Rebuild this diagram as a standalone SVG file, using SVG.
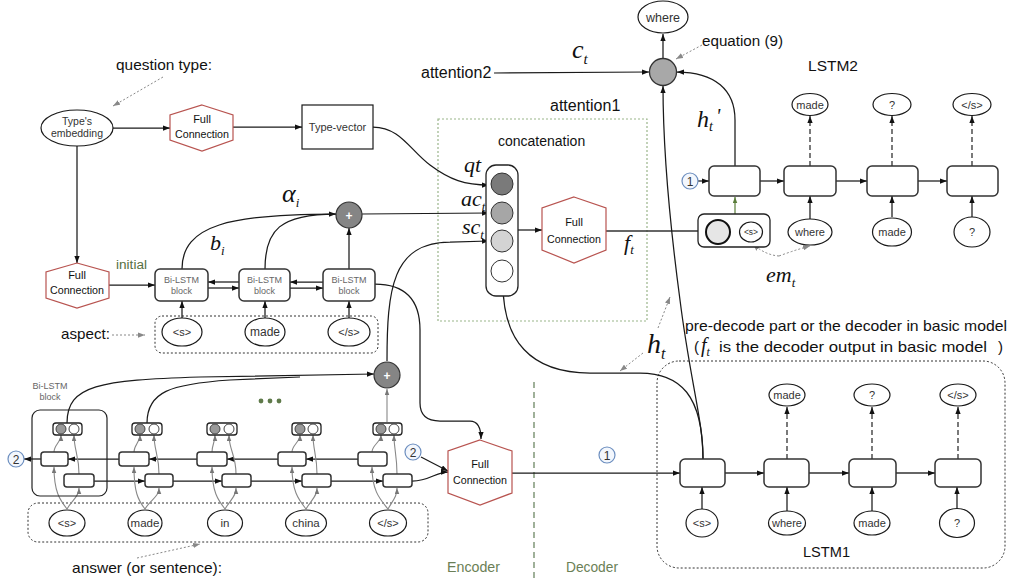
<svg xmlns="http://www.w3.org/2000/svg" width="1009" height="583" viewBox="0 0 1009 583">
<defs>
<marker id="a" viewBox="0 0 8 6" refX="8" refY="3" markerWidth="7" markerHeight="5.5" markerUnits="userSpaceOnUse" orient="auto"><path d="M0,0 L8,3 L0,6 z" fill="#111"/></marker>
<marker id="ag" viewBox="0 0 8 6" refX="8" refY="3" markerWidth="6" markerHeight="5" markerUnits="userSpaceOnUse" orient="auto"><path d="M0,0 L8,3 L0,6 z" fill="#777"/></marker>
<marker id="agr" viewBox="0 0 8 6" refX="8" refY="3" markerWidth="6" markerHeight="5" markerUnits="userSpaceOnUse" orient="auto"><path d="M0,0 L8,3 L0,6 z" fill="#5a7d3a"/></marker>
<marker id="ad" viewBox="0 0 8 6" refX="8" refY="3" markerWidth="7" markerHeight="5.5" markerUnits="userSpaceOnUse" orient="auto"><path d="M0,0 L8,3 L0,6 z" fill="#888"/></marker>
</defs>
<style>
.ln{fill:none;stroke:#1a1a1a;stroke-width:1.25}
.lt{fill:none;stroke:#333;stroke-width:1.4}
.gl{fill:none;stroke:#888;stroke-width:1.1}
.dt{fill:none;stroke:#888;stroke-width:1;stroke-dasharray:2,2}
.ds{fill:none;stroke:#333;stroke-width:1.3;stroke-dasharray:5,3}
.cell{fill:#fff;stroke:#333;stroke-width:1.5}
.hex{fill:#fff;stroke:#b85450;stroke-width:1.2}
.el{fill:#fff;stroke:#1a1a1a;stroke-width:1.2}
.pb{fill:#fff;stroke:#222;stroke-width:1.3}
.bl{fill:#f3f7fd;stroke:#6c8ebf;stroke-width:1.2}
.t{font-family:'Liberation Sans',Arial,sans-serif;fill:#333}
.c{font-family:'Liberation Sans',Arial,sans-serif;fill:#111}
.g{font-family:'Liberation Sans',Arial,sans-serif;fill:#666}
.m{font-family:'Liberation Serif','Times New Roman',serif;font-style:italic;fill:#111}
</style>
<rect width="1009" height="583" fill="#fff"/>

<g id="labels">
<text class="c" x="116" y="70" font-size="15" textLength="96" lengthAdjust="spacingAndGlyphs">question type:</text>
<text class="c" x="61" y="339" font-size="15" textLength="49" lengthAdjust="spacingAndGlyphs">aspect:</text>
<text class="c" x="72" y="573" font-size="15" textLength="150" lengthAdjust="spacingAndGlyphs">answer (or sentence):</text>
<text class="c" x="702" y="46" font-size="14" textLength="81" lengthAdjust="spacingAndGlyphs">equation (9)</text>
<text class="c" x="808" y="71" font-size="15" textLength="50" lengthAdjust="spacingAndGlyphs">LSTM2</text>
<text class="c" x="803" y="557" font-size="15" textLength="47" lengthAdjust="spacingAndGlyphs">LSTM1</text>
<text class="c" x="685" y="331" font-size="15" textLength="322" lengthAdjust="spacingAndGlyphs">pre-decode part or the decoder in basic model</text>
<text class="c" x="694" y="352" font-size="15">(</text>
<text class="m" x="701" y="352" font-size="20">f<tspan font-size="12" dy="4">t</tspan></text>
<text class="c" x="719" y="352" font-size="15" textLength="268" lengthAdjust="spacingAndGlyphs">is the decoder output in basic model</text>
<text class="c" x="998" y="352" font-size="15">)</text>
<text x="447" y="572" font-size="14" font-family="'Liberation Sans',Arial,sans-serif" fill="#6b7f56" textLength="53" lengthAdjust="spacingAndGlyphs">Encoder</text>
<text x="566" y="572" font-size="14" font-family="'Liberation Sans',Arial,sans-serif" fill="#6b7f56" textLength="52" lengthAdjust="spacingAndGlyphs">Decoder</text>
<text x="116" y="269" font-size="12" font-family="'Liberation Sans',Arial,sans-serif" fill="#56703f" textLength="31" lengthAdjust="spacingAndGlyphs">initial</text>
<text class="c" x="421" y="78" font-size="16">attention2</text>
<text class="c" x="550" y="111" font-size="16">attention1</text>
<text class="c" x="498" y="146" font-size="14">concatenation</text>
<text class="m" x="572" y="58" font-size="26">c<tspan font-size="15" dy="6">t</tspan></text>
<text class="m" x="282" y="202" font-size="26">α<tspan font-size="13" dy="5">i</tspan></text>
<text class="m" x="210" y="250" font-size="22">b<tspan font-size="13" dy="5">i</tspan></text>
<text class="m" x="464" y="172" font-size="22">qt</text>
<text class="m" x="461" y="206" font-size="22">ac<tspan font-size="13" dy="5">t</tspan></text>
<text class="m" x="462" y="234" font-size="22">sc<tspan font-size="13" dy="5">t</tspan></text>
<text class="m" x="624" y="250" font-size="22">f<tspan font-size="13" dy="4">t</tspan></text>
<text class="m" x="697" y="127" font-size="24">h<tspan font-size="14" dy="4">t</tspan><tspan font-size="20" dy="-8" dx="3">'</tspan></text>
<text class="m" x="647" y="353" font-size="28">h<tspan font-size="16" dy="6">t</tspan></text>
<text class="m" x="766" y="282" font-size="22">em<tspan font-size="13" dy="5">t</tspan></text>
<circle cx="261" cy="401" r="2.4" fill="#5f7a4a"/>
<circle cx="270" cy="401" r="2.4" fill="#5f7a4a"/>
<circle cx="279" cy="401" r="2.4" fill="#5f7a4a"/>
</g>

<g id="attention1-box"><rect x="438" y="119" width="209" height="202" fill="none" stroke="#9ab58a" stroke-width="1.2" stroke-dasharray="2,2"/></g>
<g id="aspect-box"><rect x="155" y="316" width="223" height="37" rx="7" fill="none" stroke="#333" stroke-width="1" stroke-dasharray="2,2"/></g>
<g id="answer-box"><rect x="28" y="503" width="400" height="39" rx="10" fill="none" stroke="#333" stroke-width="1" stroke-dasharray="2,2"/></g>
<g id="lstm1-box"><rect x="657" y="361" width="348" height="207" rx="22" fill="none" stroke="#333" stroke-width="1" stroke-dasharray="2,2"/></g>
<g id="divider"><line x1="534" y1="382" x2="534" y2="578" stroke="#6d8764" stroke-width="1.3" stroke-dasharray="6,4"/></g>

<g id="connectors">
<path class="dt" d="M163,77 L113,106" marker-end="url(#ad)"/>
<path class="dt" d="M112,335 L145,335" marker-end="url(#ad)"/>
<path class="dt" d="M137,558 L200,544" marker-end="url(#ad)"/>
<path class="dt" d="M702,45 L676,59" marker-end="url(#ad)"/>
<path class="dt" d="M658,328 L670,297" marker-end="url(#ad)"/>
<path class="dt" d="M643,353 L620,371" marker-end="url(#ad)"/>
<path class="dt" d="M779,256 Q765,255 753,244" marker-end="url(#ad)"/>
<path class="dt" d="M779,256 Q795,250 810,246" marker-end="url(#ad)"/>

<path class="ln" d="M113,128 L170,128" marker-end="url(#a)"/>
<path class="ln" d="M233,127 L302,127" marker-end="url(#a)"/>
<path class="ln" d="M77,146 L77,263" marker-end="url(#a)"/>
<path class="ln" d="M109,285 L155,285" marker-end="url(#a)"/>
<path class="ln" d="M239,282 L208,282" marker-end="url(#a)"/>
<path class="ln" d="M323,282 L290,282" marker-end="url(#a)"/>
<path class="ln" d="M208,288 L239,288" marker-end="url(#a)"/>
<path class="ln" d="M290,288 L323,288" marker-end="url(#a)"/>
<path class="ln" d="M182,318 L182,301" marker-end="url(#a)"/>
<path class="ln" d="M265,318 L265,301" marker-end="url(#a)"/>
<path class="ln" d="M349,318 L349,301" marker-end="url(#a)"/>
<path class="ln" d="M349,269 L349,228" marker-end="url(#a)"/>
<path class="ln" d="M182,269 C182,225 230,214 336,214" marker-end="url(#a)"/>
<path class="ln" d="M265,269 C265,230 280,214 336,214"/>
<path class="ln" d="M362,214 L489,213" marker-end="url(#a)"/>
<path class="ln" d="M373,127 C400,127 410,150 430,165 C450,180 465,185 489,185" marker-end="url(#a)"/>
<path class="ln" d="M387,361 C387,290 392,242 450,242 L489,241" marker-end="url(#a)"/>
<path class="ln" d="M375,284 C405,284 420,300 420,330 L420,403 C420,416 428,421 440,421 L470,421 C478,421 481,428 481,439" marker-end="url(#a)"/>
<path class="ln" d="M518,230 L542,230" marker-end="url(#a)"/>
<path class="lt" d="M606,231 L706,231" marker-end="url(#a)"/>
<path class="ln" d="M494,73 L649,72" marker-end="url(#a)"/>
<path class="lt" d="M663,58 L663,34" marker-end="url(#a)"/>
<path class="ln" d="M735,166 L735,120 C735,90 715,72 677,72" marker-end="url(#a)"/>
<path class="ln" d="M703,459 C703,420 690,380 680,300 C672,240 663,160 663,86" marker-end="url(#a)"/>
<path class="ln" d="M703,459 C703,395 680,373 640,373 L590,373 C530,373 503,340 503,284" marker-end="url(#a)"/>

<path class="ln" d="M698,181 L709,181" marker-end="url(#a)"/>
<path class="lt" d="M760,181 L784,181" marker-end="url(#a)"/>
<path class="lt" d="M836,181 L867,181" marker-end="url(#a)"/>
<path class="lt" d="M918,181 L947,181" marker-end="url(#a)"/>
<path class="ds" d="M810,166 L810,116" marker-end="url(#a)"/>
<path class="ds" d="M892,166 L892,116" marker-end="url(#a)"/>
<path class="ds" d="M972,166 L972,116" marker-end="url(#a)"/>
<path class="lt" d="M810,219 L810,196" marker-end="url(#a)"/>
<path class="lt" d="M892,217 L892,196" marker-end="url(#a)"/>
<path class="lt" d="M972,217 L972,196" marker-end="url(#a)"/>
<path fill="none" stroke="#5a7d3a" stroke-width="1.2" d="M735,214 L735,197" marker-end="url(#agr)"/>

<path class="ln" d="M512,473 L680,473" marker-end="url(#a)"/>
<path class="lt" d="M725,473 L764,473" marker-end="url(#a)"/>
<path class="lt" d="M809,473 L849,473" marker-end="url(#a)"/>
<path class="lt" d="M896,473 L935,473" marker-end="url(#a)"/>
<path class="ds" d="M787,459 L787,407" marker-end="url(#a)"/>
<path class="ds" d="M872,459 L872,407" marker-end="url(#a)"/>
<path class="ds" d="M958,459 L958,407" marker-end="url(#a)"/>
<path class="lt" d="M702,509 L702,487" marker-end="url(#a)"/>
<path class="lt" d="M787,511 L787,487" marker-end="url(#a)"/>
<path class="lt" d="M872,511 L872,487" marker-end="url(#a)"/>
<path class="lt" d="M957,509 L957,487" marker-end="url(#a)"/>

<path class="ln" d="M41,459 L24,459" marker-end="url(#a)"/>
<path class="ln" d="M119,459 L68,459" marker-end="url(#a)"/>
<path class="ln" d="M197,459 L149,459" marker-end="url(#a)"/>
<path class="ln" d="M278,459 L227,459" marker-end="url(#a)"/>
<path class="ln" d="M358,459 L306,459" marker-end="url(#a)"/>
<path class="ln" d="M94,481 L145,481" marker-end="url(#a)"/>
<path class="ln" d="M173,481 L222,481" marker-end="url(#a)"/>
<path class="ln" d="M251,481 L302,481" marker-end="url(#a)"/>
<path class="ln" d="M331,481 L383,481" marker-end="url(#a)"/>
<path class="ln" d="M412,481 C430,481 435,472 448,472" marker-end="url(#a)"/>
<path class="ln" d="M421,457 L448,471" marker-end="url(#a)"/>
<path class="ln" d="M67,423 C67,385 100,380 200,377 L374,374" marker-end="url(#a)"/>
<path class="ln" d="M147,423 C147,392 170,384 230,380 L300,377"/>
<path class="gl" d="M387,422 L387,389" marker-end="url(#ag)"/>

<path class="gl" d="M67,509 C60,500 54,492 54,467" marker-end="url(#ag)"/>
<path class="gl" d="M67,509 C72,500 79,497 79,488" marker-end="url(#ag)"/>
<path class="gl" d="M54,452 C54,445 61,442 61,435" marker-end="url(#ag)"/>
<path class="gl" d="M79,474 C79,455 74,450 74,435" marker-end="url(#ag)"/>

<path class="gl" d="M145,509 C138,500 134,492 134,467" marker-end="url(#ag)"/>
<path class="gl" d="M145,509 C150,500 159,497 159,488" marker-end="url(#ag)"/>
<path class="gl" d="M134,452 C134,445 140,442 140,435" marker-end="url(#ag)"/>
<path class="gl" d="M159,474 C159,455 154,450 154,435" marker-end="url(#ag)"/>

<path class="gl" d="M225,509 C218,500 212,492 212,467" marker-end="url(#ag)"/>
<path class="gl" d="M225,509 C230,500 236,497 236,488" marker-end="url(#ag)"/>
<path class="gl" d="M212,452 C212,445 215,442 215,435" marker-end="url(#ag)"/>
<path class="gl" d="M236,474 C236,455 229,450 229,435" marker-end="url(#ag)"/>

<path class="gl" d="M306,509 C299,500 292,492 292,467" marker-end="url(#ag)"/>
<path class="gl" d="M306,509 C311,500 317,497 317,488" marker-end="url(#ag)"/>
<path class="gl" d="M292,452 C292,445 300,442 300,435" marker-end="url(#ag)"/>
<path class="gl" d="M317,474 C317,455 313,450 313,435" marker-end="url(#ag)"/>

<path class="gl" d="M388,509 C381,500 372,492 372,467" marker-end="url(#ag)"/>
<path class="gl" d="M388,509 C393,500 397,497 397,488" marker-end="url(#ag)"/>
<path class="gl" d="M372,452 C372,445 381,442 381,435" marker-end="url(#ag)"/>
<path class="gl" d="M397,474 C397,455 394,450 394,435" marker-end="url(#ag)"/>
</g>

<g id="type-embedding">
<ellipse class="el" cx="77" cy="128" rx="36" ry="18"/>
<text class="t" x="77" y="125" font-size="10.5" text-anchor="middle">Type's</text>
<text class="t" x="77" y="137" font-size="10.5" text-anchor="middle">embedding</text>
</g>
<g id="fc-type">
<polygon class="hex" points="202,105 233,115 233,140 202,151 170,140 170,115"/>
<text class="c" x="202" y="123" font-size="11" text-anchor="middle">Full</text>
<text class="c" x="202" y="138" font-size="11" text-anchor="middle" textLength="54" lengthAdjust="spacingAndGlyphs">Connection</text>
</g>
<g id="type-vector">
<rect x="302" y="105" width="71" height="44" fill="#fff" stroke="#1a1a1a" stroke-width="1.2"/>
<text class="t" x="337.5" y="131" font-size="11" text-anchor="middle">Type-vector</text>
</g>
<g id="fc-initial">
<polygon class="hex" points="77,263 109,272 109,298 77,308 46,298 46,272"/>
<text class="c" x="77" y="279" font-size="11" text-anchor="middle">Full</text>
<text class="c" x="77" y="294" font-size="11" text-anchor="middle" textLength="54" lengthAdjust="spacingAndGlyphs">Connection</text>
</g>

<g id="aspect-block1"><rect class="cell" x="155" y="269" width="53" height="32" rx="5"/><text class="g" x="181.5" y="283" font-size="9" text-anchor="middle">Bi-LSTM</text><text class="g" x="181.5" y="294" font-size="9" text-anchor="middle">block</text></g>
<g id="aspect-block2"><rect class="cell" x="239" y="269" width="51" height="32" rx="5"/><text class="g" x="264.5" y="283" font-size="9" text-anchor="middle">Bi-LSTM</text><text class="g" x="264.5" y="294" font-size="9" text-anchor="middle">block</text></g>
<g id="aspect-block3"><rect class="cell" x="323" y="269" width="52" height="32" rx="5"/><text class="g" x="349" y="283" font-size="9" text-anchor="middle">Bi-LSTM</text><text class="g" x="349" y="294" font-size="9" text-anchor="middle">block</text></g>
<g id="aspect-s"><ellipse class="el" cx="182" cy="332" rx="20" ry="14"/><text class="t" x="182" y="336" font-size="11" text-anchor="middle">&lt;s&gt;</text></g>
<g id="aspect-made"><ellipse class="el" cx="265" cy="332" rx="20" ry="14"/><text class="t" x="265" y="336" font-size="12" text-anchor="middle">made</text></g>
<g id="aspect-end"><ellipse class="el" cx="349" cy="332" rx="21" ry="14"/><text class="t" x="349" y="336" font-size="11" text-anchor="middle">&lt;/s&gt;</text></g>
<g id="plus-aspect"><circle cx="349" cy="215" r="13" fill="#858585" stroke="#333" stroke-width="1.2"/><text x="349" y="219.5" font-size="12" font-weight="bold" fill="#fff" text-anchor="middle" font-family="'Liberation Sans',Arial,sans-serif">+</text></g>

<g id="concat">
<rect x="486" y="165" width="32" height="131" rx="10" fill="#fff" stroke="#222" stroke-width="1.3"/>
<circle cx="502" cy="184" r="11" fill="#7a7a7a" stroke="#333" stroke-width="1"/>
<circle cx="502" cy="213" r="11" fill="#a6a6a6" stroke="#333" stroke-width="1"/>
<circle cx="502" cy="241" r="11" fill="#d4d4d4" stroke="#333" stroke-width="1"/>
<circle cx="502" cy="271" r="11" fill="#fff" stroke="#333" stroke-width="1"/>
</g>
<g id="fc-attention">
<polygon class="hex" points="574,197 606,208 606,250 574,263 542,250 542,208"/>
<text class="c" x="574" y="226" font-size="11" text-anchor="middle">Full</text>
<text class="c" x="574" y="243" font-size="11" text-anchor="middle" textLength="54" lengthAdjust="spacingAndGlyphs">Connection</text>
</g>

<g id="equation"><circle cx="663" cy="72" r="13.5" fill="#a8a8a8" stroke="#333" stroke-width="1.3"/></g>
<g id="out-where"><ellipse class="el" cx="663" cy="17" rx="25" ry="16"/><text class="t" x="663" y="21.5" font-size="12.5" text-anchor="middle">where</text></g>

<g id="lstm2-one"><circle class="bl" cx="690" cy="181" r="8"/><text class="t" x="690" y="185.5" font-size="12" text-anchor="middle">1</text></g>
<g id="lstm2-c1"><rect class="cell" x="709" y="166" width="51" height="30" rx="5"/></g>
<g id="lstm2-c2"><rect class="cell" x="784" y="166" width="52" height="30" rx="5"/></g>
<g id="lstm2-c3"><rect class="cell" x="867" y="166" width="51" height="30" rx="5"/></g>
<g id="lstm2-c4"><rect class="cell" x="947" y="166" width="51" height="30" rx="5"/></g>
<g id="lstm2-o2"><ellipse class="el" cx="810" cy="104.5" rx="18" ry="11"/><text class="t" x="810" y="108.5" font-size="11" text-anchor="middle">made</text></g>
<g id="lstm2-o3"><ellipse class="el" cx="892" cy="104.5" rx="19" ry="11"/><text class="t" x="892" y="108.5" font-size="11" text-anchor="middle">?</text></g>
<g id="lstm2-o4"><ellipse class="el" cx="972" cy="104.5" rx="19" ry="11"/><text class="t" x="972" y="108.5" font-size="11" text-anchor="middle">&lt;/s&gt;</text></g>
<g id="lstm2-input1">
<rect x="698" y="214" width="72" height="33" rx="6" fill="#fff" stroke="#222" stroke-width="1.3"/>
<circle cx="718" cy="232" r="12" fill="#e6e6e6" stroke="#111" stroke-width="2"/>
<ellipse class="el" cx="751" cy="232" rx="11.5" ry="10"/>
<text class="t" x="751" y="235" font-size="8.5" text-anchor="middle">&lt;s&gt;</text>
</g>
<g id="lstm2-i2"><ellipse class="el" cx="810" cy="232" rx="22" ry="13"/><text class="t" x="810" y="236" font-size="11" text-anchor="middle">where</text></g>
<g id="lstm2-i3"><ellipse class="el" cx="892" cy="232" rx="19.5" ry="14"/><text class="t" x="892" y="236" font-size="11" text-anchor="middle">made</text></g>
<g id="lstm2-i4"><ellipse class="el" cx="972" cy="232" rx="18" ry="15"/><text class="t" x="972" y="236" font-size="11" text-anchor="middle">?</text></g>

<g id="lstm1-one"><circle class="bl" cx="607" cy="455" r="8"/><text class="t" x="607" y="459.5" font-size="12" text-anchor="middle">1</text></g>
<g id="lstm1-c1"><rect class="cell" x="680" y="459" width="45" height="28" rx="5"/></g>
<g id="lstm1-c2"><rect class="cell" x="764" y="459" width="45" height="28" rx="5"/></g>
<g id="lstm1-c3"><rect class="cell" x="849" y="459" width="47" height="28" rx="5"/></g>
<g id="lstm1-c4"><rect class="cell" x="935" y="459" width="46" height="28" rx="5"/></g>
<g id="lstm1-o2"><ellipse class="el" cx="787" cy="395" rx="18" ry="11"/><text class="t" x="787" y="399" font-size="11" text-anchor="middle">made</text></g>
<g id="lstm1-o3"><ellipse class="el" cx="872" cy="395" rx="18" ry="11"/><text class="t" x="872" y="399" font-size="11" text-anchor="middle">?</text></g>
<g id="lstm1-o4"><ellipse class="el" cx="958" cy="395" rx="18" ry="11"/><text class="t" x="958" y="399" font-size="11" text-anchor="middle">&lt;/s&gt;</text></g>
<g id="lstm1-i1"><ellipse class="el" cx="702" cy="523" rx="16" ry="14"/><text class="t" x="702" y="527" font-size="11" text-anchor="middle">&lt;s&gt;</text></g>
<g id="lstm1-i2"><ellipse class="el" cx="787" cy="523" rx="18.5" ry="12"/><text class="t" x="787" y="527" font-size="11" text-anchor="middle">where</text></g>
<g id="lstm1-i3"><ellipse class="el" cx="872" cy="523" rx="18" ry="12"/><text class="t" x="872" y="527" font-size="11" text-anchor="middle">made</text></g>
<g id="lstm1-i4"><ellipse class="el" cx="957" cy="523" rx="17.5" ry="14.5"/><text class="t" x="957" y="527" font-size="11" text-anchor="middle">?</text></g>

<g id="enc-block-label"><text class="g" x="50" y="389" font-size="9" text-anchor="middle">Bi-LSTM</text><text class="g" x="50" y="400" font-size="9" text-anchor="middle">block</text>
<rect x="32" y="410" width="75" height="86" rx="8" fill="none" stroke="#222" stroke-width="1.2"/></g>
<g id="enc-two"><circle class="bl" cx="16" cy="459" r="8"/><text class="t" x="16" y="463.5" font-size="12" text-anchor="middle">2</text></g>
<g id="enc-two-b"><circle class="bl" cx="413" cy="452" r="8"/><text class="t" x="413" y="456.5" font-size="12" text-anchor="middle">2</text></g>

<g id="enc-col1">
<rect class="pb" x="53" y="423" width="29" height="12" rx="3"/><circle cx="61" cy="429" r="5" fill="#999" stroke="#444"/><circle cx="74" cy="429" r="5" fill="#fff" stroke="#444"/>
<rect class="cell" x="41" y="452" width="27" height="14" rx="3"/><rect class="cell" x="64" y="474" width="30" height="13" rx="3"/>
</g>
<g id="enc-col2">
<rect class="pb" x="132" y="423" width="30" height="12" rx="3"/><circle cx="140" cy="429" r="5" fill="#999" stroke="#444"/><circle cx="154" cy="429" r="5" fill="#fff" stroke="#444"/>
<rect class="cell" x="119" y="452" width="30" height="14" rx="3"/><rect class="cell" x="145" y="474" width="28" height="13" rx="3"/>
</g>
<g id="enc-col3">
<rect class="pb" x="207" y="423" width="30" height="12" rx="3"/><circle cx="215" cy="429" r="5" fill="#999" stroke="#444"/><circle cx="229" cy="429" r="5" fill="#fff" stroke="#444"/>
<rect class="cell" x="197" y="452" width="30" height="14" rx="3"/><rect class="cell" x="222" y="474" width="29" height="13" rx="3"/>
</g>
<g id="enc-col4">
<rect class="pb" x="292" y="423" width="29" height="12" rx="3"/><circle cx="300" cy="429" r="5" fill="#999" stroke="#444"/><circle cx="313" cy="429" r="5" fill="#fff" stroke="#444"/>
<rect class="cell" x="278" y="452" width="28" height="14" rx="3"/><rect class="cell" x="302" y="474" width="29" height="13" rx="3"/>
</g>
<g id="enc-col5">
<rect class="pb" x="373" y="423" width="29" height="12" rx="3"/><circle cx="381" cy="429" r="5" fill="#999" stroke="#444"/><circle cx="394" cy="429" r="5" fill="#fff" stroke="#444"/>
<rect class="cell" x="358" y="452" width="29" height="14" rx="3"/><rect class="cell" x="383" y="474" width="29" height="13" rx="3"/>
</g>
<g id="ans-s"><ellipse class="el" cx="67" cy="523" rx="18" ry="13"/><text class="t" x="67" y="527" font-size="11" text-anchor="middle">&lt;s&gt;</text></g>
<g id="ans-made"><ellipse class="el" cx="145" cy="523" rx="17" ry="13"/><text class="t" x="145" y="527" font-size="11.5" text-anchor="middle">made</text></g>
<g id="ans-in"><ellipse class="el" cx="225" cy="523" rx="17.5" ry="13"/><text class="t" x="225" y="527" font-size="11.5" text-anchor="middle">in</text></g>
<g id="ans-china"><ellipse class="el" cx="306" cy="523" rx="20.5" ry="13"/><text class="t" x="306" y="527" font-size="11.5" text-anchor="middle">china</text></g>
<g id="ans-end"><ellipse class="el" cx="388" cy="523" rx="18.5" ry="13"/><text class="t" x="388" y="527" font-size="11" text-anchor="middle">&lt;/s&gt;</text></g>
<g id="plus-answer"><circle cx="387" cy="375" r="13" fill="#858585" stroke="#333" stroke-width="1.2"/><text x="387" y="379.5" font-size="12" font-weight="bold" fill="#fff" text-anchor="middle" font-family="'Liberation Sans',Arial,sans-serif">+</text></g>
<g id="fc-encoder">
<polygon class="hex" points="480,440 512,451 512,493 480,505 448,493 448,451"/>
<text class="c" x="480" y="468" font-size="11" text-anchor="middle">Full</text>
<text class="c" x="480" y="484" font-size="11" text-anchor="middle" textLength="54" lengthAdjust="spacingAndGlyphs">Connection</text>
</g>
</svg>
